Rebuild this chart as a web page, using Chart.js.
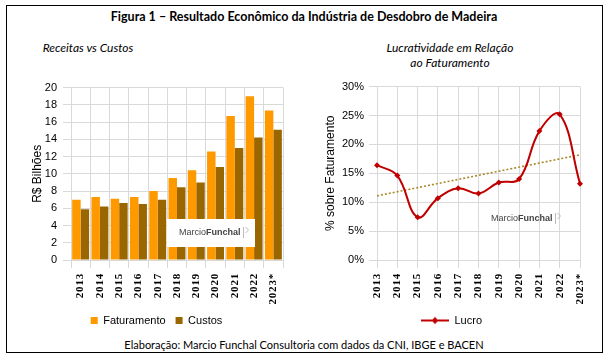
<!DOCTYPE html>
<html>
<head>
<meta charset="utf-8">
<script src="https://cdn.jsdelivr.net/npm/chart.js@4.4.1/dist/chart.umd.min.js"></script>
<style>
  body { margin: 0; background: #fff; }
  #page { position: relative; width: 608px; height: 359px; overflow: hidden; font-family: Lato, "Open Sans", sans-serif; }
  #frame { position: absolute; left: 6px; top: 5px; width: 595px; height: 346px; border: 1.5px solid #000; }
  .txt { position: absolute; text-align: center; color: #000; white-space: nowrap; }
  .box { position: absolute; }
</style>
</head>
<body>
<div id="page">
  <div id="frame"></div>
  <div class="txt" style="left:0;width:608px;top:9px;font-weight:bold;font-size:12.5px;">Figura 1 – Resultado Econômico da Indústria de Desdobro de Madeira</div>
  <div class="txt" style="left:0;width:176px;top:40px;font-style:italic;font-size:12px;">Receitas vs Custos</div>
  <div class="txt" style="left:350px;width:200px;top:40px;font-style:italic;font-size:12px;line-height:15px;">Lucratividade em Relação<br>ao Faturamento</div>
  <div class="txt" style="left:0;width:608px;top:338px;font-size:11px;">Elaboração: Marcio Funchal Consultoria com dados da CNI, IBGE e BACEN</div>
  <div class="box" style="left:30px;top:75px;width:265px;height:265px;"><canvas id="left"></canvas></div>
  <div class="box" style="left:323px;top:75px;width:277px;height:265px;"><canvas id="right"></canvas></div>
</div>
<script>
// anos
const years = ['2013', '2014', '2015', '2016', '2017', '2018', '2019', '2020', '2021', '2022', '2023*'];
// R$ bilhoes
const faturamento = [7.0, 7.3, 7.1, 7.3, 8.0, 9.5, 10.4, 12.6, 16.7, 19.0, 17.35];
const custos = [5.9, 6.2, 6.6, 6.5, 7.0, 8.45, 9.0, 10.8, 13.0, 14.2, 15.1];
// lucro em % do faturamento
const lucro = [16.4, 14.6, 7.4, 10.7, 12.4, 11.5, 13.4, 14.0, 22.3, 25.2, 13.2];
// linha de tendencia (extremos)
const tendencia = [11.1, null, null, null, null, null, null, null, null, null, 18.2];

const tickFont = { family: '"Liberation Sans", Arial, sans-serif', size: 11 };
const yearFont = { family: '"Liberation Serif", "Times New Roman", serif', size: 11, weight: 'bold' };
const gridColor = '#d9d9d9';

// letter spacing for the year labels
const spacedYears = {
  id: 'spacedYears',
  afterLayout(chart) {
    const sc = chart.scales.x;
    if (sc._spaced) return;
    const orig = sc.drawLabels;
    sc.drawLabels = function (area) {
      const ctx = this.ctx;
      ctx.save();
      ctx.letterSpacing = '0.8px';
      orig.call(this, area);
      ctx.restore();
    };
    sc._spaced = true;
  }
};

function watermark(x, y, withBox) {
  return {
    id: 'wm',
    afterDatasetsDraw(chart) {
      const ctx = chart.ctx;
      ctx.save();
      if (withBox) {
        ctx.fillStyle = '#fff';
        ctx.fillRect(x - 12, y - 12, 88, 28);
      }
      ctx.textBaseline = 'middle';
      ctx.fillStyle = '#444';
      ctx.font = '9px "Liberation Sans", Arial, sans-serif';
      ctx.fillText('Marcio', x, y + 2);
      const w = ctx.measureText('Marcio').width;
      ctx.font = 'bold 9px "Liberation Sans", Arial, sans-serif';
      ctx.fillText('Funchal', x + w, y + 2);
      const w2 = ctx.measureText('Funchal').width;
      ctx.strokeStyle = '#bbb';
      ctx.lineWidth = 1;
      ctx.beginPath();
      ctx.moveTo(x + w + w2 + 3, y - 4);
      ctx.lineTo(x + w + w2 + 3, y + 7);
      ctx.moveTo(x + w + w2 + 5, y - 4);
      ctx.lineTo(x + w + w2 + 8, y - 1);
      ctx.lineTo(x + w + w2 + 5, y + 2);
      ctx.stroke();
      ctx.restore();
    }
  };
}

new Chart(document.getElementById('left'), {
  type: 'bar',
  data: {
    labels: years,
    datasets: [
      { label: 'Faturamento', data: faturamento, backgroundColor: '#ff9900' },
      { label: 'Custos', data: custos, backgroundColor: '#996600' }
    ]
  },
  options: {
    responsive: true,
    maintainAspectRatio: false,
    animation: false,
    layout: { padding: { top: 8, right: 12, bottom: 4, left: 0 } },
    datasets: { bar: { categoryPercentage: 0.88, barPercentage: 1.0 } },
    plugins: {
      legend: {
        position: 'bottom',
        labels: { boxWidth: 7, boxHeight: 7, padding: 10, color: '#000', font: tickFont }
      },
      tooltip: { enabled: false }
    },
    scales: {
      x: {
        grid: { color: gridColor },
        border: { color: gridColor },
        ticks: { font: yearFont, color: '#000', minRotation: 90, maxRotation: 90, autoSkip: false, padding: 5 },
        afterFit(s) { s.height = 45; }
      },
      y: {
        min: 0, max: 20,
        grid: { color: gridColor },
        border: { color: gridColor },
        ticks: { stepSize: 2, font: tickFont, color: '#000', padding: 6 },
        title: { display: true, text: 'R$ Bilhões', font: { family: '"Liberation Sans", Arial, sans-serif', size: 12 }, color: '#000', padding: 0 },
        afterFit(s) { s.width = 41; }
      }
    }
  },
  plugins: [spacedYears, watermark(149, 156, true)]
});

// legend marker: line with diamond
const marker = document.createElement('canvas');
marker.width = 28; marker.height = 10;
(function () {
  const c = marker.getContext('2d');
  c.strokeStyle = '#c00000'; c.lineWidth = 2;
  c.beginPath(); c.moveTo(0, 5); c.lineTo(28, 5); c.stroke();
  c.fillStyle = '#c00000';
  c.beginPath(); c.moveTo(14, 1.5); c.lineTo(17.5, 5); c.lineTo(14, 8.5); c.lineTo(10.5, 5); c.closePath(); c.fill();
})();

new Chart(document.getElementById('right'), {
  type: 'line',
  data: {
    labels: years,
    datasets: [
      {
        label: 'Lucro', data: lucro, borderColor: '#c00000', backgroundColor: '#c00000',
        borderWidth: 2, tension: 0.4, pointStyle: 'rectRot', pointRadius: 3, pointBorderWidth: 0
      },
      {
        label: 'Tendência', data: tendencia, spanGaps: true, borderColor: '#a8892a',
        borderWidth: 1.6, borderDash: [2, 2], pointRadius: 0, tension: 0
      }
    ]
  },
  options: {
    responsive: true,
    maintainAspectRatio: false,
    animation: false,
    layout: { padding: { top: 8, right: 20, bottom: 4, left: 0 } },
    plugins: {
      legend: {
        position: 'bottom',
        labels: {
          usePointStyle: true, pointStyleWidth: 28, boxHeight: 10, padding: 10, color: '#000', font: tickFont,
          generateLabels(chart) {
            return [{ text: 'Lucro', pointStyle: marker, datasetIndex: 0, fontColor: '#000', lineWidth: 0, strokeStyle: 'transparent' }];
          }
        }
      },
      tooltip: { enabled: false }
    },
    scales: {
      x: {
        grid: { color: gridColor },
        border: { color: gridColor },
        ticks: { font: yearFont, color: '#000', minRotation: 90, maxRotation: 90, autoSkip: false, padding: 5 },
        afterFit(s) { s.height = 45; }
      },
      y: {
        min: 0, max: 30,
        grid: { color: gridColor },
        border: { color: gridColor },
        ticks: { stepSize: 5, font: tickFont, color: '#000', padding: 5, callback: (v) => v + '%' },
        title: { display: true, text: '% sobre Faturamento', font: { family: '"Liberation Sans", Arial, sans-serif', size: 12 }, color: '#000', padding: 0 },
        afterFit(s) { s.width = 54; }
      }
    }
  },
  plugins: [spacedYears, watermark(168, 142, false)]
});
</script>
</body>
</html>
